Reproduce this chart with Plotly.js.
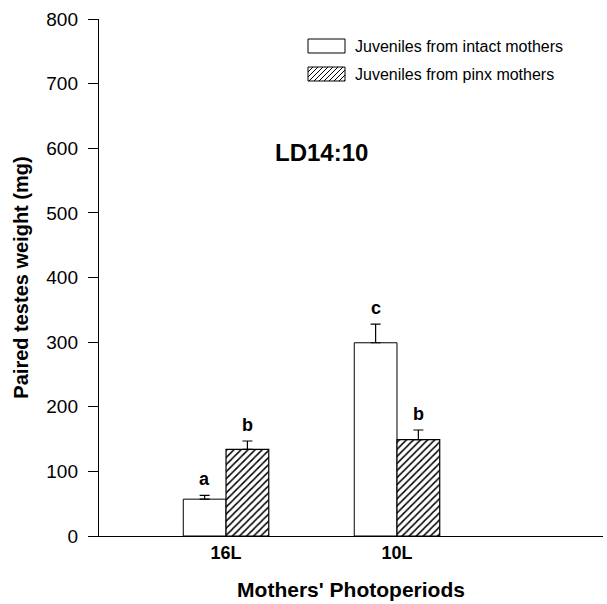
<!DOCTYPE html>
<html><head><meta charset="utf-8">
<script src="https://cdn.plot.ly/plotly-3.0.1.min.js"></script>
<style>body{margin:0;background:#fff}#c{width:607px;height:604px}</style>
</head><body><div id="c"></div>
<script>
const categories = ['16L', '10L'];
const catPos = [1, 2];
const intactVals = [57, 299];
const intactErr = [6, 29];
const pinxVals = [134, 149];
const pinxErr = [13, 15];
const intactLetters = ['a', 'c'];
const pinxLetters = ['b', 'b'];
const seriesNames = ['Juveniles from intact mothers', 'Juveniles from pinx mothers'];

const font = 'Arial, "Liberation Sans", sans-serif';
const L = 99, R = 4, T = 19, B = 68, W = 607, H = 604;
const pw = W - L - R, ph = H - T - B;
const px = v => (v - L) / pw;
const py = v => (H - B - v) / ph;

const traces = [
  {type:'bar', x:catPos, y:intactVals, name:seriesNames[0], showlegend:false,
   marker:{color:'#fff', line:{color:'#000', width:1}},
   error_y:{type:'data', symmetric:false, array:intactErr, arrayminus:[0,0], color:'#000', thickness:1.2, width:5}},
  {type:'bar', x:catPos, y:pinxVals, name:seriesNames[1], showlegend:false,
   marker:{color:'#fff', line:{color:'#000', width:1.2}, pattern:{shape:'/', fgcolor:'#000', bgcolor:'#fff', size:5, solidity:0.3}},
   error_y:{type:'data', symmetric:false, array:pinxErr, arrayminus:[0,0], color:'#000', thickness:1.2, width:5}}
];
const ann = [];
const letterFont = {family:font, size:18, color:'#000', weight:'bold'};
catPos.forEach((p,i)=>{
  ann.push({x:p-0.125, y:intactVals[i]+intactErr[i], text:intactLetters[i], showarrow:false, yanchor:'bottom', yshift:4, font:letterFont});
  ann.push({x:p+0.125, y:pinxVals[i]+pinxErr[i], text:pinxLetters[i], showarrow:false, yanchor:'bottom', yshift:4, font:letterFont});
});
ann.push({x:1.56, y:594, text:'<b>LD14:10</b>', showarrow:false, font:{family:font, size:24, color:'#000'}});

// custom legend (boxes + labels)
const shapes = [];
const legRows = [46, 74];
legRows.forEach((cy, i) => {
  shapes.push({type:'rect', xref:'paper', yref:'paper', x0:px(308), x1:px(345), y0:py(cy+7), y1:py(cy-7),
    line:{color:'#000', width:1}, fillcolor:'#fff'});
  ann.push({xref:'paper', yref:'paper', x:px(353), y:py(cy), xanchor:'left', yanchor:'middle', showarrow:false,
    text:seriesNames[i], font:{family:font, size:16, color:'#000'}});
});
// hatch lines for second legend box
{
  const x0 = 308, x1 = 345, y0 = legRows[1]-7, y1 = legRows[1]+7, step = 5;
  let path = '';
  for (let s = x0 - (y1 - y0); s < x1; s += step) {
    let ax = s, ay = y1, bx = s + (y1 - y0), by = y0;
    if (ax < x0) { ay = y1 - (x0 - ax); ax = x0; }
    if (bx > x1) { by = y0 + (bx - x1); bx = x1; }
    if (ax >= bx) continue;
    path += `M${px(ax)},${py(ay)} L${px(bx)},${py(by)} `;
  }
  shapes.push({type:'path', xref:'paper', yref:'paper', path:path, line:{color:'#000', width:1}});
}

const layout = {
  width:W, height:H, margin:{l:L, r:R, t:T, b:B},
  paper_bgcolor:'#fff', plot_bgcolor:'#fff',
  barmode:'group', bargap:0.5, bargroupgap:0,
  font:{family:font, color:'#000'},
  showlegend:false,
  xaxis:{range:[0.257, 3.205], tickvals:catPos, ticktext:categories, showline:true, linecolor:'#000', linewidth:1.2, ticks:'', showgrid:false, zeroline:false,
    tickfont:{family:font, size:18, weight:'bold'},
    title:{text:"<b>Mothers' Photoperiods</b>", font:{family:font, size:21}, standoff:20}},
  yaxis:{range:[0, 800], dtick:100, showline:true, linecolor:'#000', linewidth:1.2, ticks:'outside', ticklen:10, tickcolor:'#000', tickwidth:1, showgrid:false, zeroline:false,
    ticklabelstandoff:6,
    tickfont:{family:font, size:19},
    title:{text:'<b>Paired testes weight (mg)</b>', font:{family:font, size:20}, standoff:12}},
  shapes:shapes,
  annotations:ann
};
Plotly.newPlot('c', traces, layout, {displayModeBar:false, staticPlot:true});
</script></body></html>
